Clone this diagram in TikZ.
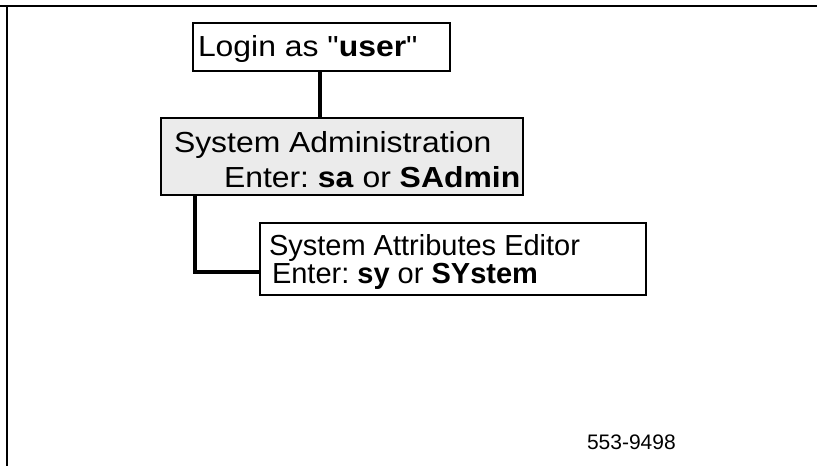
\documentclass[tikz,border=0pt]{standalone}
\usepackage{fontspec}
\usepackage{graphicx}
\newfontfamily\arial{Liberation Sans}
\tikzset{
  boxnode/.style={draw=black, line width=2pt, inner sep=0pt, outer sep=0pt, anchor=north west},
  conn/.style={draw=black, line width=4pt, line cap=butt, line join=miter},
  txt/.style={inner sep=0pt, outer sep=0pt, anchor=base west, font=\arial\fontsize{29}{34}\selectfont\frenchspacing},
  frameline/.style={draw=black, line width=2.5pt}
}
\definecolor{boxgray}{HTML}{EBEBEB}
\begin{document}
\begin{tikzpicture}[x=1pt,y=-1pt]
\useasboundingbox (0,0) rectangle (817,466);
% frame
\coordinate (ftl) at (7,6);
\coordinate (ftr) at (817,6);
\coordinate (fbl) at (7,466);
\coordinate (ftl0) at (0,6);
\draw[frameline] (ftl0) -- (ftr);
\draw[frameline] (ftl) -- (fbl);
% boxes
\node[boxnode, minimum width=257pt, minimum height=48pt] (login) at (193,23) {};
\node[boxnode, fill=boxgray, minimum width=362pt, minimum height=77pt] (sa) at (161,118) {};
\node[boxnode, minimum width=386pt, minimum height=72pt] (sae) at (260,223) {};
% connectors
\draw[conn] ([xshift=-2pt]login.south) -- ([xshift=-2pt]login.south |- sa.north);
\draw[conn] ([xshift=34pt]sa.south west) |- ([yshift=23pt]sae.south west);
% texts
\node[txt] (tlogin) at (198,56) {\scalebox{1.1}[1]{Login as "\textbf{user}"}};
\node[txt] (tsa1) at (174,152) {\scalebox{1.1}[1]{System Administration}};
\node[txt] (tsa2) at (224,187) {\scalebox{1.1}[1]{Enter: \textbf{sa} or \textbf{SAdmin}}};
\node[txt] (tsae1) at (269,255) {System Attributes Editor};
\node[txt] (tsae2) at (272,283) {Enter: \textbf{sy} or \textbf{SYstem}};
\node[inner sep=0pt, outer sep=0pt, anchor=base west, font=\arial\fontsize{21}{25}\selectfont] (code) at (587,449) {553-9498};
\end{tikzpicture}
\end{document}
